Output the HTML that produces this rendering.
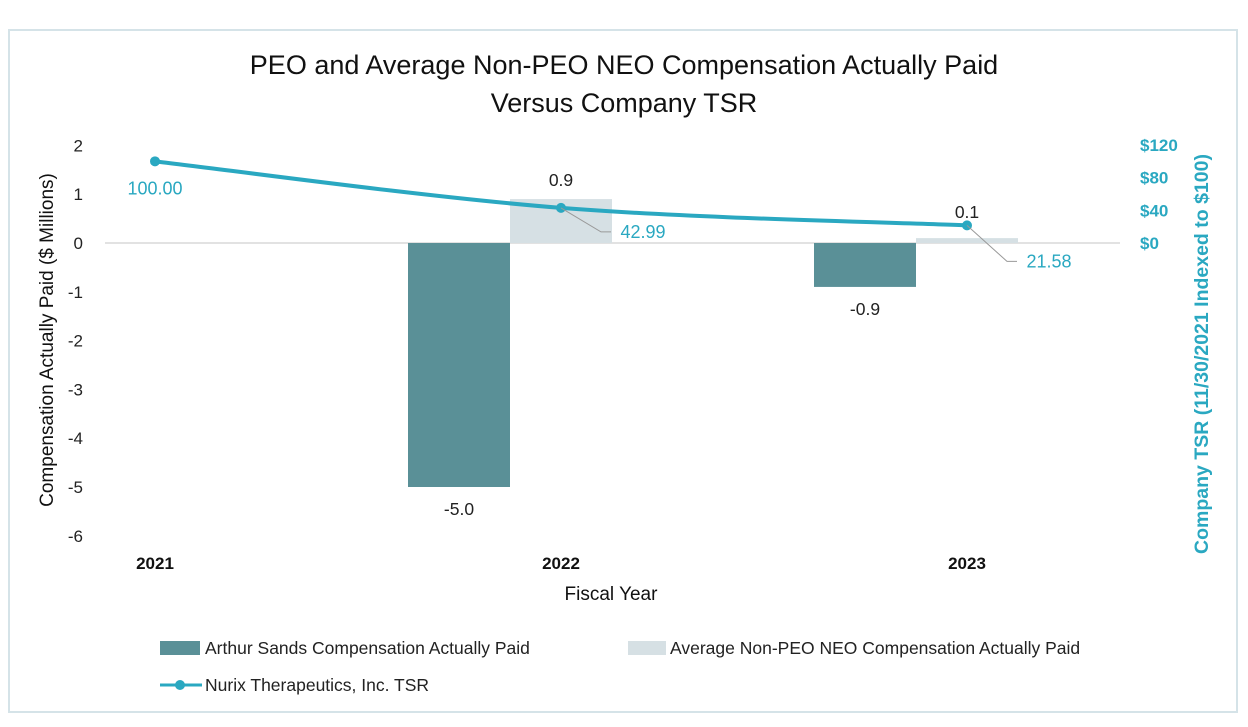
<!DOCTYPE html>
<html><head><meta charset="utf-8"><style>
body{margin:0;background:#fff;width:1248px;height:722px;overflow:hidden;font-family:"Liberation Sans",sans-serif}
</style></head><body>
<svg width="1248" height="722" xmlns="http://www.w3.org/2000/svg" font-family="Liberation Sans, sans-serif">
<rect x="9" y="30" width="1228" height="682" fill="#fff" stroke="#d5e3e8" stroke-width="2"/>
<text x="624" y="74" font-size="27" text-anchor="middle" fill="#111">PEO and Average Non-PEO NEO Compensation Actually Paid</text>
<text x="624" y="112" font-size="27" text-anchor="middle" fill="#111">Versus Company TSR</text>
<g id="plot"></g>
<text transform="translate(53,340) rotate(-90)" font-size="19" text-anchor="middle" fill="#111">Compensation Actually Paid ($ Millions)</text>
<text transform="translate(1208,354) rotate(-90)" font-size="19.5" font-weight="bold" text-anchor="middle" fill="#2aa8c1">Company TSR (11/30/2021 Indexed to $100)</text>
<text x="611" y="600" font-size="19" text-anchor="middle" fill="#111">Fiscal Year</text>
<rect x="160" y="641" width="40" height="14" fill="#5a9097"/>
<text x="205" y="654" font-size="17.5" fill="#222">Arthur Sands Compensation Actually Paid</text>
<rect x="628" y="641" width="38" height="14" fill="#d6e0e4"/>
<text x="670" y="654" font-size="17.5" fill="#222">Average Non-PEO NEO Compensation Actually Paid</text>
<line x1="160" y1="685" x2="202" y2="685" stroke="#2aa8c1" stroke-width="3"/>
<circle cx="180" cy="685" r="5" fill="#2aa8c1"/>
<text x="205" y="691" font-size="17.5" fill="#222">Nurix Therapeutics, Inc. TSR</text>
</svg>
<script>
const years = ["2021","2022","2023"];
const arthur = [null, -5.0, -0.9];
const nonPeo = [null, 0.9, 0.1];
const tsr = [100.00, 42.99, 21.58];
const leftTicks = [2,1,0,-1,-2,-3,-4,-5,-6];
const rightTicks = [0,40,80,120];

const NS="http://www.w3.org/2000/svg";
const g=document.getElementById('plot');
const y=v=>243-v*48.8;
const y2=v=>243-v*0.8167;
const x=i=>155+i*406;
function mk(t,a,txt){const e=document.createElementNS(NS,t);for(const k in a)e.setAttribute(k,a[k]);if(txt!==undefined)e.textContent=txt;g.appendChild(e);return e;}
leftTicks.forEach(v=>{const e=mk('text',{x:83,y:y(v)+6,'font-size':17,'text-anchor':'end',fill:'#222'},String(v));

});
rightTicks.forEach(v=>{const e=mk('text',{x:1140,y:y2(v)+6,'font-size':17,'font-weight':'bold',fill:'#2aa8c1'},'$'+v);

});
const base=mk('line',{x1:105,y1:243,x2:1120,y2:243,stroke:'#d9d9d9','stroke-width':1.5});


years.forEach((yr,i)=>{const e=mk('text',{x:x(i),y:569,'font-size':17,'font-weight':'bold','text-anchor':'middle',fill:'#111'},yr);


if(arthur[i]!==null){const v=arthur[i];const t=Math.min(y(0),y(v)),h=Math.abs(y(v)-y(0));
const b=mk('rect',{x:x(i)-153,y:t,width:102,height:h,fill:'#5a9097'});


const l=mk('text',{x:x(i)-102,y:v<0?y(v)+28:y(v)-10,'font-size':17.5,'text-anchor':'middle',fill:'#222'},v.toFixed(1));

}
if(nonPeo[i]!==null){const v=nonPeo[i];const t=Math.min(y(0),y(v)),h=Math.abs(y(v)-y(0));
const b=mk('rect',{x:x(i)-51,y:t,width:102,height:h,fill:'#d6e0e4'});


const l=mk('text',{x:x(i),y:i==1?y(v)-13:y(v)-20,'font-size':17.5,'text-anchor':'middle',fill:'#222'},v.toFixed(1));

}
});
const pts=tsr.map((v,i)=>[x(i),y2(v)]);
let d='M'+pts[0][0]+','+pts[0][1];
for(let i=1;i<pts.length;i++){const p0=pts[i-2]||pts[i-1],p1=pts[i-1],p2=pts[i],p3=pts[i+1]||pts[i];
d+=` C${p1[0]+(p2[0]-p0[0])/6},${p1[1]+(p2[1]-p0[1])/6} ${p2[0]-(p3[0]-p1[0])/6},${p2[1]-(p3[1]-p1[1])/6} ${p2[0]},${p2[1]}`;}
const pl=mk('path',{d:d,fill:'none',stroke:'#2aa8c1','stroke-width':4,'stroke-linejoin':'round'});


tsr.forEach((v,i)=>{const c=mk('circle',{cx:x(i),cy:y2(v),r:5,fill:'#2aa8c1'});


let lx,ly;
if(i==0){lx=x(i);ly=y2(v)+33;}
else{lx=x(i)+82;ly=y2(v)+30+(i==2?12:0);
const ll=mk('polyline',{points:`${x(i)},${y2(v)} ${x(i)+40},${ly-6} ${x(i)+50},${ly-6}`,fill:'none',stroke:'#999','stroke-width':1});

}
const t=mk('text',{x:lx,y:ly,'font-size':18,'text-anchor':'middle',fill:'#2aa8c1'},v.toFixed(2));

});
</script>
</body></html>
